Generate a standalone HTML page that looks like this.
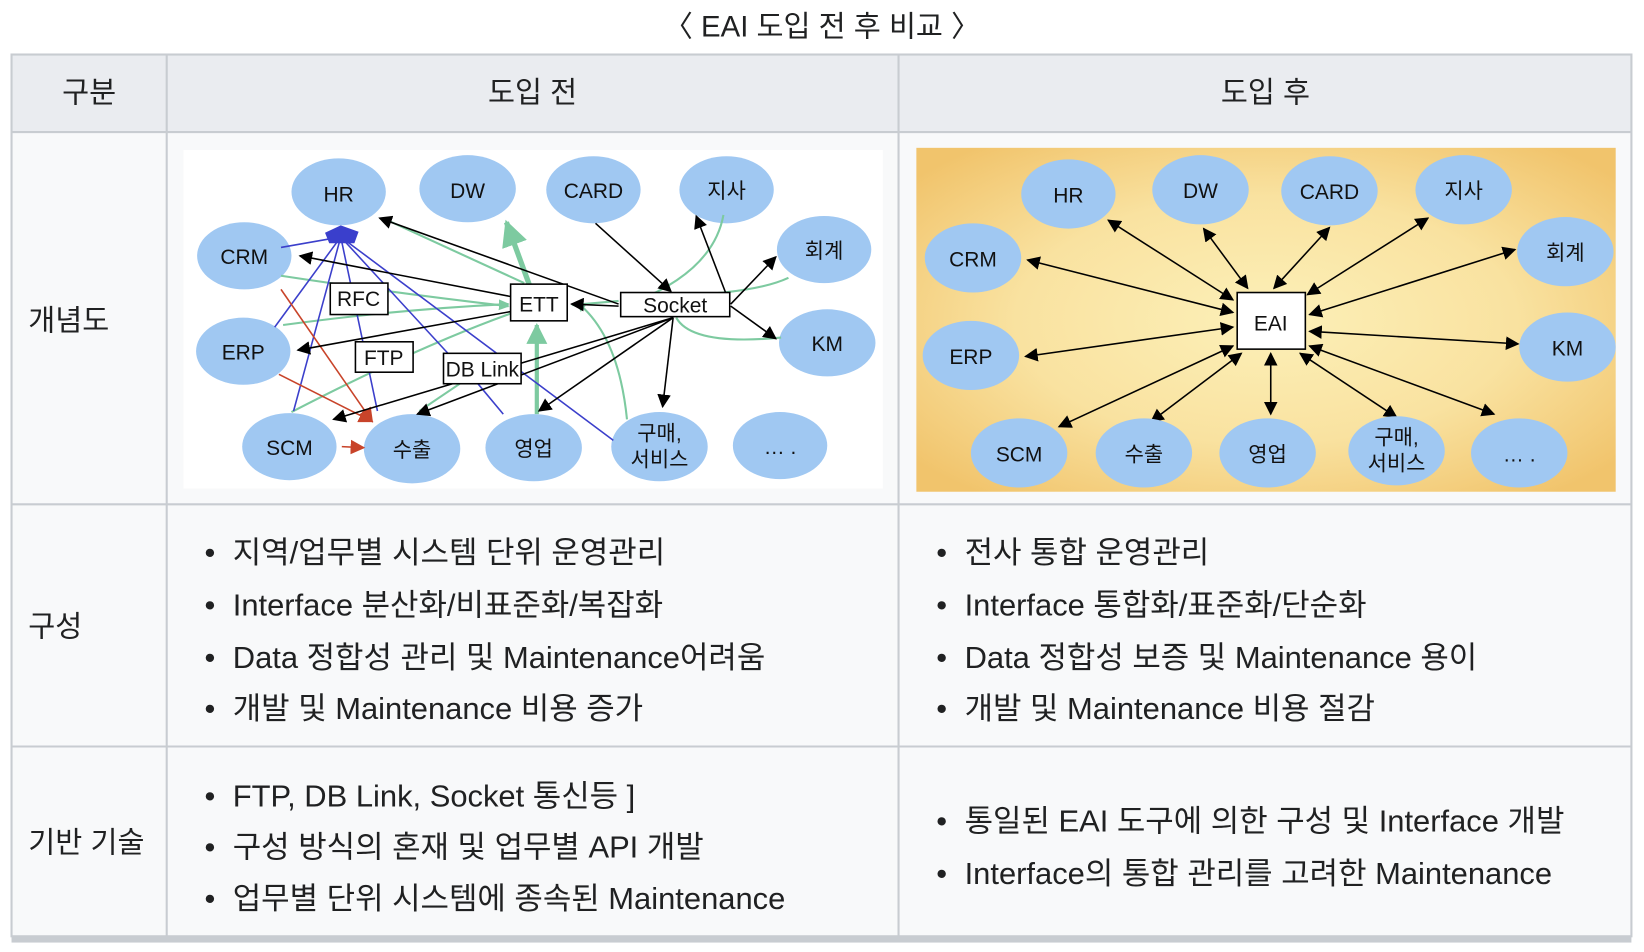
<!DOCTYPE html>
<html><head><meta charset="utf-8"><style>
html,body{margin:0;padding:0;background:#fff;}
svg{display:block;}
text{font-family:"Liberation Sans","Noto Sans CJK KR",sans-serif;fill:#202122;}
.t{font-size:28px;}
.b{font-size:29.5px;}
.n{font-size:20px;fill:#111;text-anchor:middle;}
</style></head><body>
<svg width="1644" height="952" viewBox="0 0 1568 908" preserveAspectRatio="none" xmlns="http://www.w3.org/2000/svg">
<defs>
<marker id="ab" viewBox="0 0 10 10" refX="9" refY="5" markerWidth="9" markerHeight="9" markerUnits="userSpaceOnUse" orient="auto-start-reverse"><path d="M0,0L10,5L0,10z" fill="#000"/></marker>
<marker id="ab2" viewBox="0 0 10 10" refX="9" refY="5" markerWidth="13" markerHeight="13" markerUnits="userSpaceOnUse" orient="auto-start-reverse"><path d="M0,0L10,5L0,10z" fill="#000"/></marker>
<marker id="ag" viewBox="0 0 10 10" refX="9" refY="5" markerWidth="5" markerHeight="5" orient="auto"><path d="M0,0L10,5L0,10z" fill="#7dcaa0"/></marker>
<marker id="ar" viewBox="0 0 10 10" refX="9" refY="5" markerWidth="14" markerHeight="14" markerUnits="userSpaceOnUse" orient="auto"><path d="M0,0L10,5L0,10z" fill="#c8442a"/></marker>
<radialGradient id="og" cx="50%" cy="50%" r="65%">
<stop offset="0" stop-color="#fcf0b8"/><stop offset="0.55" stop-color="#f9e2a0"/><stop offset="1" stop-color="#f1c46c"/></radialGradient>
</defs>
<rect width="1568" height="908" fill="#fff"/>
<text x="784" y="35" class="t" text-anchor="middle">〈 EAI 도입 전 후 비교 〉</text>
<rect x="11" y="52" width="1545" height="74" fill="#eaecf0"/>
<rect x="11" y="126" width="1545" height="767" fill="#f8f9fa"/>
<rect x="11" y="893" width="1545" height="6" fill="#c8ccd1"/>
<g stroke="#c8ccd1" stroke-width="2" fill="none">
<rect x="11" y="52" width="1545" height="841"/>
<line x1="11" y1="126" x2="1556" y2="126"/>
<line x1="11" y1="481" x2="1556" y2="481"/>
<line x1="11" y1="712" x2="1556" y2="712"/>
<line x1="159" y1="52" x2="159" y2="893"/>
<line x1="857" y1="52" x2="857" y2="893"/>
</g>
<text x="85" y="98" class="t" text-anchor="middle">구분</text>
<text x="508" y="98" class="t" text-anchor="middle">도입 전</text>
<text x="1207" y="98" class="t" text-anchor="middle">도입 후</text>
<text x="27" y="315" class="t">개념도</text>
<text x="27" y="607" class="t">구성</text>
<text x="27" y="813" class="t">기반 기술</text>
<g class="b">
<text x="195" y="537">•</text><text x="222" y="537">지역/업무별 시스템 단위 운영관리</text>
<text x="195" y="587">•</text><text x="222" y="587">Interface 분산화/비표준화/복잡화</text>
<text x="195" y="637">•</text><text x="222" y="637">Data 정합성 관리 및 Maintenance어려움</text>
<text x="195" y="686">•</text><text x="222" y="686">개발 및 Maintenance 비용 증가</text>
<text x="195" y="769">•</text><text x="222" y="769">FTP, DB Link, Socket 통신등 ]</text>
<text x="195" y="818">•</text><text x="222" y="818">구성 방식의 혼재 및 업무별 API 개발</text>
<text x="195" y="867">•</text><text x="222" y="867">업무별 단위 시스템에 종속된 Maintenance</text>
<text x="893" y="537">•</text><text x="920" y="537">전사 통합 운영관리</text>
<text x="893" y="587">•</text><text x="920" y="587">Interface 통합화/표준화/단순화</text>
<text x="893" y="637">•</text><text x="920" y="637">Data 정합성 보증 및 Maintenance 용이</text>
<text x="893" y="686">•</text><text x="920" y="686">개발 및 Maintenance 비용 절감</text>
<text x="893" y="793">•</text><text x="920" y="793">통일된 EAI 도구에 의한 구성 및 Interface 개발</text>
<text x="893" y="843">•</text><text x="920" y="843">Interface의 통합 관리를 고려한 Maintenance</text>
</g>

<rect x="175" y="143" width="667" height="323" fill="#fff"/>
<g fill="#a0c8f2">
<ellipse cx="323" cy="183" rx="45" ry="32"/><ellipse cx="446" cy="180" rx="46" ry="32"/>
<ellipse cx="566" cy="181" rx="45" ry="32"/><ellipse cx="693" cy="181" rx="45" ry="32"/>
<ellipse cx="233" cy="244" rx="45" ry="32"/><ellipse cx="786" cy="238" rx="45" ry="32"/>
<ellipse cx="232" cy="335" rx="45" ry="32"/><ellipse cx="789" cy="327" rx="46" ry="32"/>
<ellipse cx="276" cy="426" rx="45" ry="32"/><ellipse cx="393" cy="428" rx="46" ry="33"/>
<ellipse cx="509" cy="427" rx="46" ry="32"/><ellipse cx="629" cy="426" rx="46" ry="33"/>
<ellipse cx="744" cy="425" rx="45" ry="32"/>
</g>
<g fill="none" stroke="#7dcaa0" stroke-width="2">
<path d="M268,263 Q380,280 485,292" marker-end="url(#ag)"/>
<path d="M270,310 Q380,295 485,290" marker-end="url(#ag)"/>
<path d="M278,393 Q400,330 490,298"/>
<path d="M590,287 L546,291" marker-end="url(#ag)"/>
<path d="M598,400 Q590,320 550,288" marker-end="url(#ag)"/>
<path d="M512,395 L512,310" stroke-width="4" marker-end="url(#ag)"/>
<path d="M505,272 L483,212" stroke-width="5" marker-end="url(#ag)"/>
<path d="M500,270 L365,208"/>
<path d="M690,205 Q680,260 600,290"/>
<path d="M752,265 Q720,280 640,282"/>
<path d="M645,303 Q660,330 745,322"/>
<path d="M400,392 L440,365"/>
</g>
<g fill="none" stroke="#3b3fcb" stroke-width="1.5">
<path d="M325,226 L262,312"/><path d="M325,226 L280,392"/><path d="M325,226 L360,392"/>
<path d="M325,226 L430,340"/><path d="M325,226 L585,420"/><path d="M455,365 L480,395"/>
<path d="M325,226 L268,236"/>
</g>
<path d="M310,222 L325,215 L342,221 L338,232 L314,232z" fill="#3a3fcc"/>
<g fill="none" stroke="#c8442a" stroke-width="1.5">
<path d="M268,276 L355,402" marker-end="url(#ar)"/>
<path d="M266,357 L355,402" marker-end="url(#ar)"/>
<path d="M326,426 L347,427" marker-end="url(#ar)"/>
</g>
<g fill="none" stroke="#000" stroke-width="1.5" marker-end="url(#ab2)">
<path d="M590,290 L362,208"/>
<path d="M488,283 L286,244"/>
<path d="M488,297 L284,334"/>
<path d="M642,303 L318,400"/>
<path d="M642,303 L398,395"/>
<path d="M642,303 L514,392"/>
<path d="M642,303 L632,388"/>
<path d="M568,213 L640,278"/>
<path d="M692,279 L664,206"/>
<path d="M697,290 L740,245"/>
<path d="M697,292 L740,323"/>
<path d="M590,292 L545,290"/>
</g>
<g>
<rect x="315" y="270" width="55" height="30" fill="#fff" stroke="#000" stroke-width="1.5"/><text x="342" y="292" class="n" font-size="19">RFC</text>
<rect x="487" y="271" width="54" height="35" fill="#fff" stroke="#000" stroke-width="1.5"/><text x="514" y="297" class="n">ETT</text>
<rect x="592" y="279" width="104" height="23" fill="#fff" stroke="#000" stroke-width="1.5"/><text x="644" y="298" class="n">Socket</text>
<rect x="339" y="326" width="55" height="29" fill="#fff" stroke="#000" stroke-width="1.5"/><text x="366" y="348" class="n">FTP</text>
<rect x="423" y="337" width="74" height="29" fill="#fff" stroke="#000" stroke-width="1.5"/><text x="460" y="359" class="n">DB Link</text>
</g>
<g>
<text x="323" y="192" class="n">HR</text><text x="446" y="189" class="n">DW</text>
<text x="566" y="189" class="n">CARD</text><text x="693" y="189" class="n">지사</text>
<text x="233" y="252" class="n">CRM</text><text x="786" y="246" class="n">회계</text>
<text x="232" y="343" class="n">ERP</text><text x="789" y="335" class="n">KM</text>
<text x="276" y="434" class="n">SCM</text><text x="393" y="436" class="n">수출</text>
<text x="509" y="435" class="n">영업</text><text x="629" y="420" class="n">구매,</text><text x="629" y="445" class="n">서비스</text>
<text x="744" y="433" class="n">… .</text>
</g>

<rect x="874" y="141" width="667" height="328" fill="url(#og)"/>
<g fill="none" stroke="#000" stroke-width="1.5" marker-start="url(#ab2)" marker-end="url(#ab2)">
<path d="M1176,286 L1057,210"/>
<path d="M1190,275 L1148,218"/>
<path d="M1215,275 L1268,217"/>
<path d="M1247,281 L1362,208"/>
<path d="M1176,298 L980,248"/>
<path d="M1176,312 L978,340"/>
<path d="M1176,330 L1010,407"/>
<path d="M1184,337 L1098,402"/>
<path d="M1212,337 L1212,395"/>
<path d="M1240,337 L1332,398"/>
<path d="M1249,330 L1425,395"/>
<path d="M1249,300 L1445,238"/>
<path d="M1249,316 L1448,328"/>
</g>
<rect x="1180" y="279" width="65" height="54" fill="#fff" stroke="#000" stroke-width="1.5"/>
<text x="1212" y="315" class="n" font-size="21">EAI</text>
<g fill="#a0c8f2">
<ellipse cx="1019" cy="185" rx="45" ry="33"/><ellipse cx="1145" cy="181" rx="46" ry="33"/>
<ellipse cx="1268" cy="182" rx="46" ry="33"/><ellipse cx="1396" cy="181" rx="46" ry="33"/>
<ellipse cx="928" cy="246" rx="46" ry="33"/><ellipse cx="1493" cy="240" rx="46" ry="33"/>
<ellipse cx="926" cy="339" rx="46" ry="33"/><ellipse cx="1495" cy="331" rx="46" ry="33"/>
<ellipse cx="972" cy="432" rx="46" ry="33"/><ellipse cx="1091" cy="432" rx="46" ry="33"/>
<ellipse cx="1209" cy="432" rx="46" ry="33"/><ellipse cx="1332" cy="430" rx="46" ry="33"/>
<ellipse cx="1449" cy="432" rx="46" ry="33"/>
</g>
<g>
<text x="1019" y="193" class="n">HR</text><text x="1145" y="189" class="n">DW</text>
<text x="1268" y="190" class="n">CARD</text><text x="1396" y="189" class="n">지사</text>
<text x="928" y="254" class="n">CRM</text><text x="1493" y="248" class="n">회계</text>
<text x="926" y="347" class="n">ERP</text><text x="1495" y="339" class="n">KM</text>
<text x="972" y="440" class="n">SCM</text><text x="1091" y="440" class="n">수출</text>
<text x="1209" y="440" class="n">영업</text><text x="1332" y="424" class="n">구매,</text><text x="1332" y="449" class="n">서비스</text>
<text x="1449" y="440" class="n">… .</text>
</g>
</svg>
</body></html>
